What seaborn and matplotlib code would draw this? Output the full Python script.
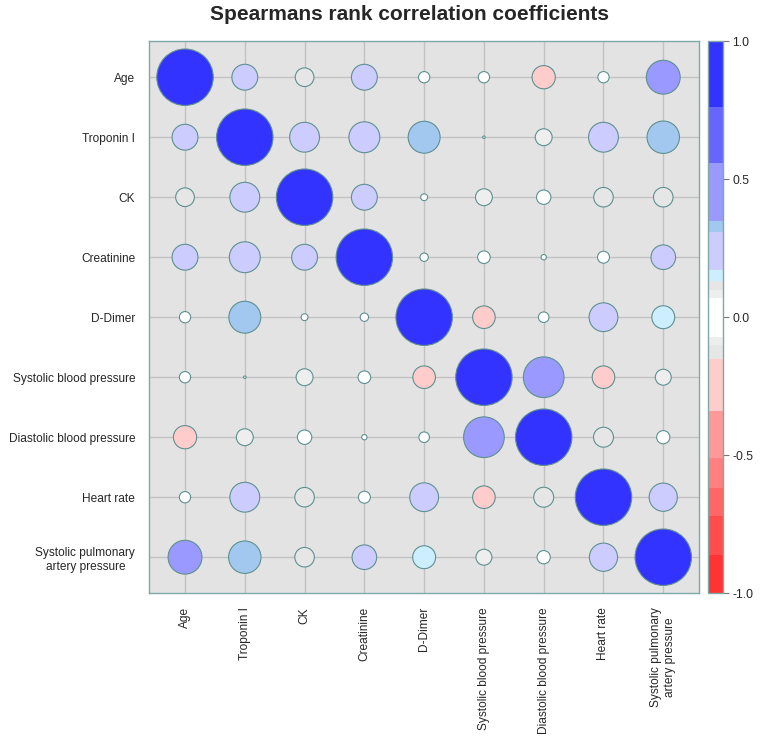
import numpy as np
import pandas as pd
import matplotlib
matplotlib.use("Agg")
import matplotlib.pyplot as plt
import matplotlib.colors as mcolors
import seaborn as sns

# variables (rows top -> bottom, columns left -> right)
variables = ["Age", "Troponin I", "CK", "Creatinine", "D-Dimer",
             "Systolic blood pressure", "Diastolic blood pressure",
             "Heart rate", "Systolic pulmonary\nartery pressure"]

# Spearman rho (symmetric matrix)
age_r        = [1.00, 0.21, 0.11, 0.21, 0.04, 0.04, -0.17, 0.04, 0.36]
troponin_r   = [0.21, 1.00, 0.28, 0.30, 0.32, 0.002, 0.09, 0.28, 0.33]
ck_r         = [0.11, 0.28, 1.00, 0.21, 0.015, 0.09, 0.065, 0.12, 0.12]
creatinine_r = [0.21, 0.30, 0.21, 1.00, 0.022, 0.05, 0.009, 0.045, 0.19]
ddimer_r     = [0.04, 0.32, 0.015, 0.022, 1.00, -0.16, 0.035, 0.26, 0.165]
sbp_r        = [0.04, 0.002, 0.09, 0.05, -0.16, 1.00, 0.52, -0.16, 0.08]
dbp_r        = [-0.17, 0.09, 0.065, 0.009, 0.035, 0.52, 1.00, 0.125, 0.055]
hr_r         = [0.04, 0.28, 0.12, 0.045, 0.26, -0.16, 0.125, 1.00, 0.25]
spap_r       = [0.36, 0.33, 0.12, 0.19, 0.165, 0.08, 0.055, 0.25, 1.00]

rows = [age_r, troponin_r, ck_r, creatinine_r, ddimer_r, sbp_r, dbp_r, hr_r, spap_r]

# discrete colour scale of the legend bar
bounds = [-1.0, -0.86, -0.72, -0.62, -0.51, -0.34, -0.15, -0.10, -0.07,
          0.07, 0.10, 0.13, 0.17, 0.31, 0.35, 0.56, 0.76, 1.0]
band_colors = ["#FF3333", "#FF4D4D", "#FF6666", "#FF8080", "#FF9999", "#FFCCCC",
               "#E6E6E6", "#EEEEEE", "#FFFFFF", "#EEEEEE", "#E6E6E6",
               "#CCEEFF", "#CCCCFF", "#A3C8F0", "#9999FF", "#6666FF", "#3333FF"]
cmap = mcolors.ListedColormap(band_colors)
norm = mcolors.BoundaryNorm(bounds, cmap.N)

# long format
records = []
for i, vals in enumerate(rows):
    for j, v in enumerate(vals):
        records.append({"row": i, "col": j, "rho": v, "absrho": abs(v)})
df = pd.DataFrame(records)

sns.set_style("white", {"axes.facecolor": "#E3E3E3", "axes.edgecolor": "#7FA8A8"})
plt.rcParams["font.family"] = ["Liberation Sans", "DejaVu Sans"]

fig = plt.figure(figsize=(7.61, 7.36), dpi=100)
ax = fig.add_axes([0.196, 0.194, 0.7227, 0.75])
cax = fig.add_axes([0.930, 0.194, 0.0197, 0.75])

max_area = 1650
sns.scatterplot(data=df, x="col", y="row", hue="rho", palette=cmap, hue_norm=norm,
                size="absrho", sizes=(0, max_area), size_norm=(0, 1),
                edgecolor="#5E9090", linewidth=0.8, legend=False, ax=ax, zorder=3)

n = len(variables)
ax.set_xlim(-0.6, n - 0.4)
ax.set_ylim(n - 0.4, -0.6)
ax.set_xticks(np.arange(n))
ax.set_yticks(np.arange(n))
ax.set_xticklabels(variables, rotation=90, fontsize=8.6, multialignment="center")
ax.set_yticklabels(variables, fontsize=8.6, multialignment="center")
ax.set_xlabel("")
ax.set_ylabel("")
ax.grid(True, color="#C2C2C2", linewidth=1.0, zorder=0)
ax.set_axisbelow(True)
ax.tick_params(axis="both", length=5, width=0.9, color="#333333", pad=5)
for s in ax.spines.values():
    s.set_color("#7FA8A8")
    s.set_linewidth(1.0)

# colour bar
sm = plt.cm.ScalarMappable(cmap=cmap, norm=norm)
cb = fig.colorbar(sm, cax=cax, ticks=[-1.0, -0.5, 0.0, 0.5, 1.0],
                  spacing="proportional", format="%.1f")
cb.minorticks_off()
cb.outline.set_edgecolor("#7FA8A8")
cb.outline.set_linewidth(1.0)
cax.tick_params(which="major", length=4, width=0.8, color="#777777", labelsize=8.8, pad=3)
cax.tick_params(which="minor", length=0)

fig.text(0.5375, 0.980, "Spearmans rank correlation coefficients",
         ha="center", va="center", fontsize=15, fontweight="bold")

fig.savefig("out.png", dpi=100)
